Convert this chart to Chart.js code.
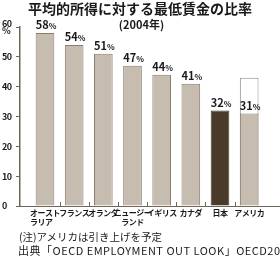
<!DOCTYPE html>
<html lang="ja">
<head>
<meta charset="utf-8">
<script src="https://cdn.jsdelivr.net/npm/chart.js@4/dist/chart.umd.min.js"></script>
<style>
    html, body { margin: 0; padding: 0; background: #fff; }
    #wrap { position: relative; width: 280px; height: 258px; overflow: hidden; font-family: "Noto Sans CJK JP", sans-serif; color: #1a1a1a; }
    #chart { position: absolute; left: 0; top: 0; }
    .txt { position: absolute; white-space: nowrap; }
    #title { left: 0; width: 280px; top: 0; text-align: center; font-size: 14px; font-weight: bold; line-height: 16px; }
    #sub { left: 0; width: 283px; top: 18px; text-align: center; font-size: 11px; font-weight: bold; line-height: 13px; }
    #note { left: 19px; top: 231px; font-size: 10.5px; line-height: 12px; }
    #src { left: 18px; top: 244px; font-size: 11px; line-height: 12px; letter-spacing: 0.5px; }
</style>
</head>
<body>
<div id="wrap">
    <canvas id="chart" width="280" height="258"></canvas>
    <div class="txt" id="title">平均的所得に対する最低賃金の比率</div>
    <div class="txt" id="sub">(2004年)</div>
    <div class="txt" id="note">(注)アメリカは引き上げを予定</div>
    <div class="txt" id="src">出典「OECD EMPLOYMENT OUT LOOK」OECD2006</div>
</div>
<script>
// 国名 (改行あり)
const COUNTRIES = [
    ["オースト", "ラリア　"],
    "フランス",
    "オランダ",
    ["ニュージー", "ランド"],
    "イギリス",
    "カナダ",
    "日本",
    "アメリカ",
];
// 平均的所得に対する最低賃金の比率 (%)
const RATIO = [58, 54, 51, 47, 44, 41, 32, 31];
// アメリカの引き上げ予定 (白枠)
const PLANNED = [null, null, null, null, null, null, null, 43];
const Y_TICKS = [0, 10, 20, 30, 40, 50, 60];

const BEIGE = "#c6bdb0";
const BEIGE_EDGE = "#8a7e6f";
const JAPAN = "#4a3a2a";
const AXIS = "#6e6458";
const FONT = "'Noto Sans CJK JP', sans-serif";

// 目盛ラベルは字詰めを少し狭く
const tightTicks = {
    id: "tightTicks",
    beforeDraw(chart) {
        chart.ctx.letterSpacing = "-0.5px";
    },
    beforeDatasetsDraw(chart) {
        chart.ctx.letterSpacing = "0px";
    },
};

// 棒の上の「58%」ラベル
const valueLabels = {
    id: "valueLabels",
    afterDatasetsDraw(chart) {
        const meta = chart.getDatasetMeta(1);
        const ctx = chart.ctx;
        ctx.save();
        ctx.fillStyle = "#1a1a1a";
        ctx.textBaseline = "middle";
        meta.data.forEach((bar, i) => {
            const num = String(RATIO[i]);
            ctx.font = "bold 11px " + FONT;
            const w1 = ctx.measureText(num).width;
            ctx.font = "bold 8px " + FONT;
            const w2 = ctx.measureText("%").width;
            const x0 = bar.x - (w1 + w2) / 2 + 1;
            const y = bar.y - 8;
            ctx.font = "bold 11px " + FONT;
            ctx.textAlign = "left";
            ctx.fillText(num, x0, y);
            ctx.font = "bold 8px " + FONT;
            ctx.fillText("%", x0 + w1, y + 1);
        });
        ctx.restore();
    },
};

// 棒の間の小さな目盛
const baseMarks = {
    id: "baseMarks",
    afterDraw(chart) {
        const x = chart.scales.x;
        const bottom = chart.chartArea.bottom;
        const ctx = chart.ctx;
        ctx.save();
        ctx.strokeStyle = AXIS;
        ctx.lineWidth = 1;
        for (let i = 0; i < COUNTRIES.length - 1; i++) {
            const px = Math.round(x.getPixelForValue(i + 0.5)) + 0.5;
            ctx.beginPath();
            ctx.moveTo(px, bottom);
            ctx.lineTo(px, bottom - 4);
            ctx.stroke();
        }
        ctx.restore();
    },
};

new Chart(document.getElementById("chart"), {
    type: "bar",
    data: {
        datasets: [
            {
                label: "引き上げ予定",
                data: PLANNED.map((v, i) => ({ x: i, y: v })),
                backgroundColor: "#ffffff",
                borderColor: "#8c8c8c",
                borderWidth: 1,
                order: 1,
            },
            {
                label: "比率",
                data: RATIO.map((v, i) => ({ x: i, y: v })),
                backgroundColor: RATIO.map((_, i) => (i === 6 ? JAPAN : BEIGE)),
                borderColor: RATIO.map((_, i) => (i === 6 ? JAPAN : BEIGE_EDGE)),
                borderWidth: 1,
                order: 0,
            },
        ],
    },
    options: {
        responsive: false,
        animation: false,
        devicePixelRatio: 1,
        layout: { padding: { left: 2, right: 0, top: 27, bottom: 0 } },
        datasets: {
            bar: { grouped: false, categoryPercentage: 1, barPercentage: 0.64 },
        },
        plugins: {
            legend: { display: false },
            tooltip: { enabled: false },
            title: { display: false },
        },
        scales: {
            x: {
                type: "linear",
                min: -0.3,
                max: 7.5,
                afterBuildTicks(scale) {
                    scale.ticks = COUNTRIES.map((_, i) => ({ value: i }));
                },
                afterFit(scale) {
                    scale.height = 52;
                },
                grid: { display: false, drawTicks: false },
                border: { display: true, color: AXIS, width: 1 },
                ticks: {
                    autoSkip: false,
                    maxRotation: 0,
                    padding: 3,
                    color: "#1a1a1a",
                    font: { family: FONT, size: 8, weight: "bold", lineHeight: 1.1 },
                    callback: (v) => COUNTRIES[v],
                },
            },
            y: {
                min: 0,
                max: 60,
                afterBuildTicks(scale) {
                    scale.ticks = Y_TICKS.map((v) => ({ value: v }));
                },
                afterFit(scale) {
                    scale.width = 18;
                },
                grid: { drawOnChartArea: false, drawTicks: true, tickLength: 4, color: AXIS },
                border: { display: true, color: AXIS, width: 1.5 },
                ticks: {
                    crossAlign: "far",
                    padding: 2,
                    color: "#1a1a1a",
                    font: { family: FONT, size: 9, weight: "bold", lineHeight: 0.8 },
                    callback: (v) => (v === 60 ? ["60", "%"] : String(v)),
                },
            },
        },
    },
    plugins: [tightTicks, valueLabels, baseMarks],
});
</script>
</body>
</html>
